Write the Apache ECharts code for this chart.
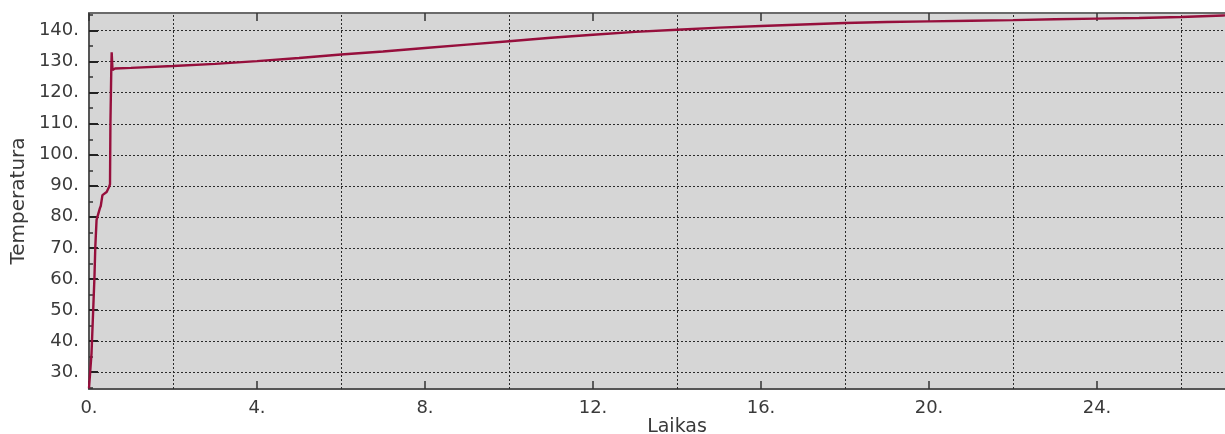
<!DOCTYPE html>
<html>
<head>
<meta charset="utf-8">
<script src="https://cdn.jsdelivr.net/npm/echarts@6/dist/echarts.min.js"></script>
<style>
  html, body { margin: 0; padding: 0; background: #ffffff; }
  #chart { width: 1225px; height: 434px; }
</style>
</head>
<body>
<div id="chart"></div>
<script>
// Heating curve: time (Laikas) vs temperature (Temperatura)
const timeValues = [0, 0.02, 0.06, 0.1, 0.13, 0.15, 0.18, 0.26, 0.28, 0.32, 0.42, 0.48, 0.5, 0.51, 0.53, 0.54, 0.56, 0.6, 0.62,
  1, 2, 3, 4, 5, 6, 7, 8, 9, 10, 11, 12, 13, 14, 15, 16, 17, 18, 19, 20, 21, 22, 23, 24, 25, 26, 27, 28];
const temperatureValues = [24.7, 25.2, 36, 50, 60.6, 70.3, 79, 82.8, 83.5, 87, 88, 89.7, 90.5, 110, 127, 133, 127.3, 127.6, 127.8,
  128.0, 128.6, 129.3, 130.2, 131.2, 132.3, 133.3, 134.4, 135.5, 136.6, 137.7, 138.7, 139.6, 140.3, 141.0, 141.5, 142.0, 142.5,
  142.8, 143.0, 143.2, 143.4, 143.7, 143.9, 144.1, 144.4, 144.9, 145.4];

// Axis ticks and gridlines
const yMajorTicks = [30, 40, 50, 60, 70, 80, 90, 100, 110, 120, 130, 140];
const yMinorTicks = [25, 35, 45, 55, 65, 75, 85, 95, 105, 115, 125, 135, 145];
const xGridLines = [2, 6, 10, 14, 18, 22, 26];

const labelColor = '#3a3a3a';
const frameColor = '#555555';
const gridDots = { color: '#2a2a2a', width: 1, type: [2, 2] };
const fontFamily = 'DejaVu Sans, Verdana, sans-serif';

const chart = echarts.init(document.getElementById('chart'));

chart.setOption({
  animation: false,
  backgroundColor: '#ffffff',
  grid: {
    left: 89, right: -40, top: 13, bottom: 45,
    outerBoundsMode: 'none',
    containLabel: false,
    show: true, backgroundColor: '#d6d6d6', borderWidth: 0
  },
  xAxis: [{
    type: 'value', min: 0, max: 28, interval: 4,
    position: 'bottom',
    name: 'Laikas', nameLocation: 'middle', nameGap: 29, nameMoveOverlap: false,
    nameTextStyle: { color: labelColor, fontSize: 19, fontFamily: fontFamily },
    axisLine: { show: true, lineStyle: { color: frameColor, width: 2 } },
    axisTick: { show: true, inside: true, length: 8, lineStyle: { color: '#333', width: 1.5 } },
    axisLabel: { color: labelColor, fontSize: 18, fontFamily: fontFamily, margin: 10,
      formatter: v => v + '.' },
    splitLine: { show: false }
  }, {
    type: 'value', min: 0, max: 28, interval: 4,
    position: 'top',
    axisLine: { show: true, lineStyle: { color: '#6a6a6a', width: 2 } },
    axisTick: { show: true, inside: true, length: 8, lineStyle: { color: '#333', width: 1.5 } },
    axisLabel: { show: false },
    splitLine: { show: false }
  }],
  yAxis: [{
    type: 'value', min: 24.5, max: 145.7,
    position: 'left',
    name: 'Temperatura', nameLocation: 'middle', nameGap: 60, nameMoveOverlap: false,
    nameTextStyle: { color: labelColor, fontSize: 20, fontFamily: fontFamily },
    axisLine: { show: true, lineStyle: { color: frameColor, width: 2 } },
    axisTick: { show: true, inside: true, length: 9, customValues: yMajorTicks,
      lineStyle: { color: '#222', width: 2 } },
    axisLabel: { color: labelColor, fontSize: 18, fontFamily: fontFamily, margin: 10,
      customValues: yMajorTicks, formatter: v => v + '.' },
    splitLine: { show: true, lineStyle: gridDots }
  }, {
    type: 'value', min: 24.5, max: 145.7,
    position: 'left',
    axisLine: { show: false },
    axisTick: { show: true, inside: true, length: 4, customValues: yMinorTicks,
      lineStyle: { color: '#333', width: 1.5 } },
    axisLabel: { show: false, customValues: yMinorTicks },
    splitLine: { show: false }
  }],
  series: [{
    type: 'line',
    xAxisIndex: 0, yAxisIndex: 0,
    data: timeValues.map((t, i) => [t, temperatureValues[i]]),
    showSymbol: false,
    smooth: false,
    lineStyle: { color: '#960f3c', width: 2.4 },
    clip: true,
    markLine: {
      silent: true,
      symbol: 'none',
      label: { show: false },
      lineStyle: gridDots,
      data: xGridLines.map(x => ({ xAxis: x }))
    },
    z: 5
  }]
});
</script>
</body>
</html>
